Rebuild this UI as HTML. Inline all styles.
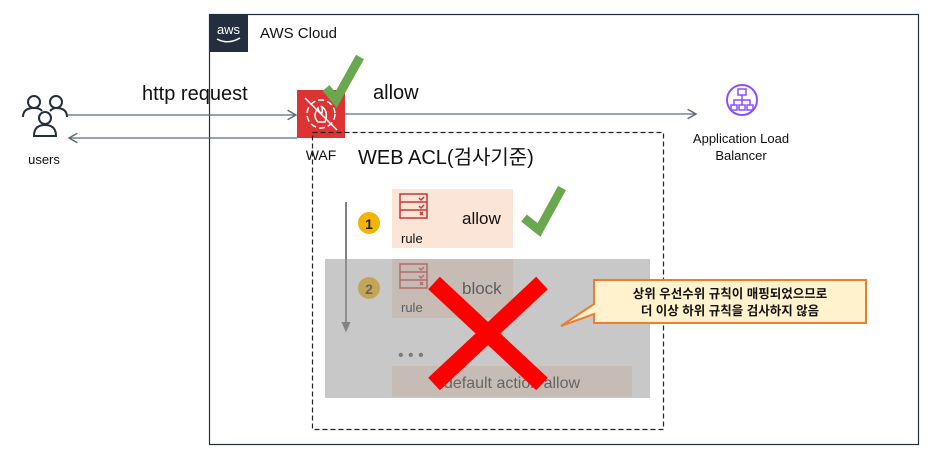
<!DOCTYPE html>
<html><head><meta charset="utf-8"><style>
body{margin:0;background:#fff;width:941px;height:466px;overflow:hidden}
svg{display:block}
text{font-family:"Liberation Sans","Noto Sans CJK KR",sans-serif}
</style></head><body>
<svg width="941" height="466" viewBox="0 0 941 466" xmlns="http://www.w3.org/2000/svg">
<defs><marker id="ah" markerWidth="10" markerHeight="10" refX="8" refY="5" orient="auto"><path d="M1,1 L8,5 L1,9" fill="none" stroke="#5a6b85" stroke-width="1.2"/></marker>
<marker id="ad" markerWidth="8" markerHeight="8" refX="4" refY="4" orient="auto"><path d="M0,1 L7,4 L0,7z" fill="#666"/></marker></defs>
<rect x="209.5" y="14.5" width="709" height="430" fill="none" stroke="#232f3e" stroke-width="1.2"/>
<rect x="209" y="14" width="39" height="38" fill="#232f3e"/>
<text x="228.5" y="34" fill="#fff" font-size="13" text-anchor="middle">aws</text>
<path d="M217,39 Q228,45 240,38" stroke="#fff" stroke-width="1.5" fill="none"/>
<text x="260" y="38" font-size="15" fill="#111">AWS Cloud</text>
<g fill="none" stroke="#232f3e" stroke-width="2">
<circle cx="34" cy="102" r="6"/><circle cx="56" cy="102" r="6"/><circle cx="45" cy="118" r="6"/>
<path d="M23,117 q0,-9 11,-9 q6,0 8,3"/><path d="M50,111 q3,-3 6,-3 q11,0 11,9"/><path d="M34,136 q0,-11 11,-11 q11,0 11,11z"/></g>
<text x="44" y="164" font-size="13" text-anchor="middle" fill="#111">users</text>
<line x1="68" y1="115" x2="296" y2="115" stroke="#5a6b85" stroke-width="1.2" marker-end="url(#ah)"/>
<line x1="297" y1="138" x2="69" y2="138" stroke="#5a6b85" stroke-width="1.2" marker-end="url(#ah)"/>
<line x1="345" y1="114" x2="696" y2="114" stroke="#5a6b85" stroke-width="1.2" marker-end="url(#ah)"/>
<text x="142" y="100" font-size="20" fill="#111">http request</text>
<text x="373" y="99" font-size="20" fill="#111">allow</text>
<rect x="297" y="90" width="48" height="48" fill="#dd3333"/>
<circle cx="321" cy="114" r="14" fill="none" stroke="#fff" stroke-width="1.5" stroke-dasharray="6 3"/>
<path d="M318,122 q-6,-6 0,-14 q1,5 4,5 q1,-4 -1,-7 q8,5 4,16z" fill="none" stroke="#fff" stroke-width="1.5"/>
<line x1="305" y1="98" x2="337" y2="130" stroke="#fff" stroke-width="1.5"/>
<text x="321" y="160" font-size="14" text-anchor="middle" fill="#111">WAF</text>
<path d="M326,88 L336,100 L360,57" fill="none" stroke="#6aa84f" stroke-width="9"/>
<circle cx="742" cy="100" r="15" fill="none" stroke="#8c4fff" stroke-width="2"/>
<g stroke="#8c4fff" stroke-width="1.5" fill="none"><rect x="738" y="89" width="8" height="6"/><rect x="731" y="105" width="6" height="5"/><rect x="739" y="105" width="6" height="5"/><rect x="747" y="105" width="6" height="5"/><path d="M742,95 v5 M734,105 v-5 h16 v5 M742,100 v5"/></g>
<text x="741" y="143" font-size="13" text-anchor="middle" fill="#111">Application Load</text>
<text x="741" y="160" font-size="13" text-anchor="middle" fill="#111">Balancer</text>
<rect x="312.5" y="132.5" width="351" height="297" fill="none" stroke="#222" stroke-width="1.2" stroke-dasharray="5 3"/>
<text x="358" y="164" font-size="20" fill="#111">WEB ACL(검사기준)</text>
<line x1="346" y1="202" x2="346" y2="328" stroke="#555" stroke-width="1.5" marker-end="url(#ad)"/>
<circle cx="369" cy="223" r="11" fill="#f4b400"/><text x="369" y="229" font-size="14" text-anchor="middle" font-weight="bold" fill="#222">1</text>
<rect x="392" y="189" width="121" height="59" fill="#fbe5d6"/>
<g stroke="#cc3333" stroke-width="1.5" fill="none"><rect x="400" y="194" width="27" height="24"/><path d="M400,202 h27 M400,210 h27 M419,198 l2,2 l3,-3 M419,206 l2,2 l3,-3 M420,212 l3,3 M423,212 l-3,3"/></g>
<text x="401" y="243" font-size="13" fill="#111">rule</text>
<text x="462" y="224" font-size="17" fill="#111">allow</text>
<path d="M524,218 L539,230 L562,188" fill="none" stroke="#6aa84f" stroke-width="9"/>
<circle cx="369" cy="288" r="11" fill="#f4b400"/><text x="369" y="294" font-size="14" text-anchor="middle" font-weight="bold" fill="#222">2</text>
<rect x="392" y="259" width="121" height="59" fill="#fbe5d6"/>
<g stroke="#cc3333" stroke-width="1.5" fill="none"><rect x="400" y="264" width="27" height="24"/><path d="M400,272 h27 M400,280 h27 M419,268 l2,2 l3,-3 M419,276 l2,2 l3,-3 M420,282 l3,3 M423,282 l-3,3"/></g>
<text x="401" y="312" font-size="13" fill="#111">rule</text>
<text x="462" y="294" font-size="17" fill="#111">block</text>
<text x="398" y="360" font-size="16" fill="#555">• • •</text>
<rect x="392" y="366" width="240" height="31" fill="#fbe5d6"/>
<text x="512" y="388" font-size="16" text-anchor="middle" fill="#222">default action allow</text>
<rect x="325" y="259" width="325" height="139" fill="#9a9a9a" fill-opacity="0.55"/>
<path d="M434,283 L542,384 M542,283 L434,384" stroke="#ff0000" stroke-width="17"/>
<path d="M594,280 H866 V323 H594 V314 L561,326 L594,304 Z" fill="#fff2cc" stroke="#ed7d31" stroke-width="2"/>
<text x="730" y="298" font-size="12.5" text-anchor="middle" fill="#111" font-weight="bold">상위 우선수위 규칙이 매핑되었으므로</text>
<text x="730" y="315" font-size="12.5" text-anchor="middle" fill="#111" font-weight="bold">더 이상 하위 규칙을 검사하지 않음</text>
</svg>
</body></html>
